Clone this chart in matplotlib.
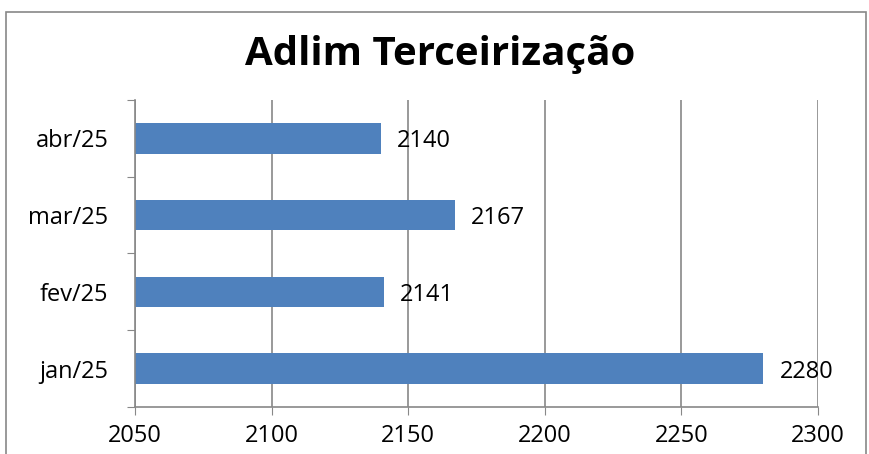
import matplotlib.pyplot as plt
from matplotlib.patches import Rectangle

# dados
months = ['jan/25', 'fev/25', 'mar/25', 'abr/25']
values = [2280, 2141, 2167, 2140]

plt.rcParams['font.family'] = ['Open Sans', 'DejaVu Sans']

fig = plt.figure(figsize=(8.69, 4.54), dpi=100)
ax = fig.add_axes([135 / 869, 1 - 407 / 454, 683 / 869, 307 / 454])

# borda externa do gráfico
fig.patches.append(Rectangle((6 / 869, -0.05), 860 / 869, 1.05 - 12 / 454,
                             transform=fig.transFigure, fill=False,
                             edgecolor='#888888', linewidth=1.2))

pos = range(len(months))
ax.barh(pos, [v - 2050 for v in values], left=2050, height=0.4, color='#4F81BD')
for i, v in enumerate(values):
    ax.text(v + 6, i - 0.04, str(v), va='center', ha='left', fontsize=17)

ax.set_xlim(2050, 2300)
ax.set_ylim(-0.5, 3.5)
ax.set_xticks(range(2050, 2301, 50))
ax.tick_params(axis='x', labelsize=17, length=6, color='#888888', direction='out', pad=6)

# rótulos de categoria sem ticks, ticks nos limites
ax.set_yticks([p - 0.5 for p in range(len(months) + 1)])
ax.set_yticklabels([])
ax.set_yticks(list(pos), minor=True)
ax.set_yticklabels(months, minor=True, fontsize=17)
ax.tick_params(axis='y', which='major', length=6, color='#888888')
ax.tick_params(axis='y', which='minor', length=0, pad=19)

ax.grid(axis='x', color='#888888', linewidth=1.2)
ax.set_axisbelow(True)
for s in ['top', 'right']:
    ax.spines[s].set_visible(False)
for s in ['left', 'bottom']:
    ax.spines[s].set_color('#888888')
    ax.spines[s].set_linewidth(1.2)

fig.text(440 / 869, 1 - 54 / 454, 'Adlim Terceirização', ha='center', va='center',
         fontsize=29, fontweight='bold')

fig.savefig('out.png', dpi=100)
